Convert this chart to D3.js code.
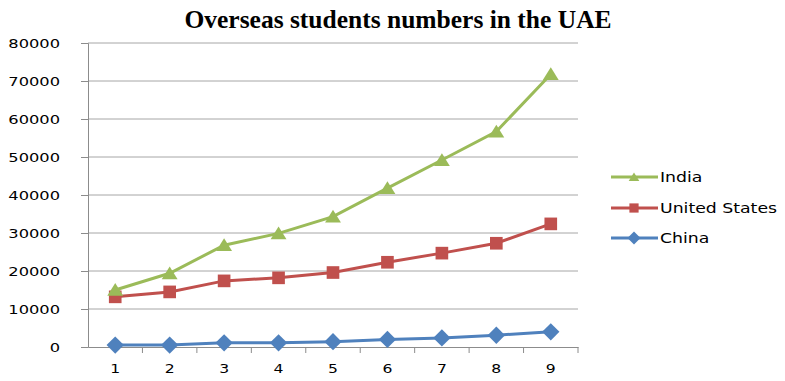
<!DOCTYPE html>
<html><head><meta charset="utf-8">
<script src="https://cdn.jsdelivr.net/npm/d3@7"></script>
<style>body{margin:0;background:#fff}svg{display:block}</style>
</head><body>
<script>
const categories = [1,2,3,4,5,6,7,8,9];
const india = [15000,19400,26800,29900,34300,41800,49200,56700,71800];
const us = [13200,14500,17400,18200,19600,22300,24700,27300,32400];
const china = [500,500,1100,1100,1400,2000,2400,3100,4000];
const yTicks = [0,10000,20000,30000,40000,50000,60000,70000,80000];
const title = "Overseas students numbers in the UAE";
const seriesNames = ["India","United States","China"];
const colors = ["#9BBB59","#C0504D","#4F81BD"];

const diamond = {draw(ctx,size){const r=Math.sqrt(size/2);ctx.moveTo(0,-r);ctx.lineTo(r,0);ctx.lineTo(0,r);ctx.lineTo(-r,0);ctx.closePath();}};
const triangle = {draw(ctx,size){const r=Math.sqrt(size)/2;ctx.moveTo(0,-r*1.0);ctx.lineTo(r*1.15,r*0.85);ctx.lineTo(-r*1.15,r*0.85);ctx.closePath();}};
const symbols = [triangle, d3.symbolSquare, diamond];

const W=785,H=381;
const svg=d3.select("body").append("svg").attr("width",W).attr("height",H);
const x=d3.scaleBand().domain(categories).range([88,578]);
const y=d3.scaleLinear().domain([0,80000]).range([347,43]);

function stretch(sel,f){sel.each(function(){const w=this.getComputedTextLength();d3.select(this).attr("textLength",w*f).attr("lengthAdjust","spacingAndGlyphs");});}

svg.append("text").attr("x",398).attr("y",28).attr("text-anchor","middle")
 .attr("font-family","Liberation Serif").attr("font-weight","bold").attr("font-size",25.5).text(title);

svg.append("g").selectAll("line").data(yTicks.filter(d=>d>0)).join("line")
 .attr("x1",88).attr("x2",578).attr("y1",d=>y(d)).attr("y2",d=>y(d))
 .attr("stroke","#a6a6a6").attr("stroke-width",1);

const ya=svg.append("g").attr("transform","translate(88,0)")
 .call(d3.axisLeft(y).tickValues(yTicks).tickSize(7).tickPadding(21).tickFormat(d3.format("d")));
ya.select(".domain").attr("stroke","#8c8c8c");
ya.selectAll(".tick line").attr("stroke","#8c8c8c");
ya.selectAll("text").attr("font-family","DejaVu Sans").attr("font-size",12.5).attr("fill","#000").attr("dy","0.36em");
stretch(ya.selectAll("text"),1.3);

const xa=svg.append("g").attr("transform","translate(0,347)")
 .call(d3.axisBottom(x).tickSize(0).tickPadding(17));
xa.select(".domain").attr("stroke","#8c8c8c");
xa.selectAll("text").attr("font-family","DejaVu Sans").attr("font-size",13).attr("fill","#000");
stretch(xa.selectAll("text"),1.2);
svg.append("g").selectAll("line").data(categories).join("line")
 .attr("x1",d=>x(d)+x.bandwidth()).attr("x2",d=>x(d)+x.bandwidth())
 .attr("y1",347).attr("y2",353).attr("stroke","#8c8c8c");

const cx=d=>x(d)+x.bandwidth()/2;
const all=[india,us,china];
[2,1,0].forEach(i=>{
  const vals=all[i];
  const g=svg.append("g");
  g.append("path").datum(vals).attr("fill","none").attr("stroke",colors[i]).attr("stroke-width",3)
   .attr("d",d3.line().x((d,j)=>cx(categories[j])).y(d=>y(d)));
  const sz = i===0?190:(i===1?160:150);
  g.selectAll("path.m").data(vals).join("path").attr("class","m")
   .attr("transform",(d,j)=>`translate(${cx(categories[j])},${y(d)})`)
   .attr("d",d3.symbol().type(symbols[i]).size(sz)).attr("fill",colors[i]);
});

const ly=[177,208,238];
seriesNames.forEach((n,i)=>{
  const g=svg.append("g");
  g.append("line").attr("x1",611).attr("x2",658).attr("y1",ly[i]).attr("y2",ly[i]).attr("stroke",colors[i]).attr("stroke-width",3);
  g.append("path").attr("transform",`translate(634,${ly[i]})`).attr("d",d3.symbol().type(symbols[i]).size(85)).attr("fill",colors[i]);
  const t=g.append("text").attr("x",660).attr("y",ly[i]+5).attr("font-family","DejaVu Sans").attr("font-size",13.5)
   .attr("fill","#000").text(n);
  stretch(t,1.28);
});
</script>
</body></html>
